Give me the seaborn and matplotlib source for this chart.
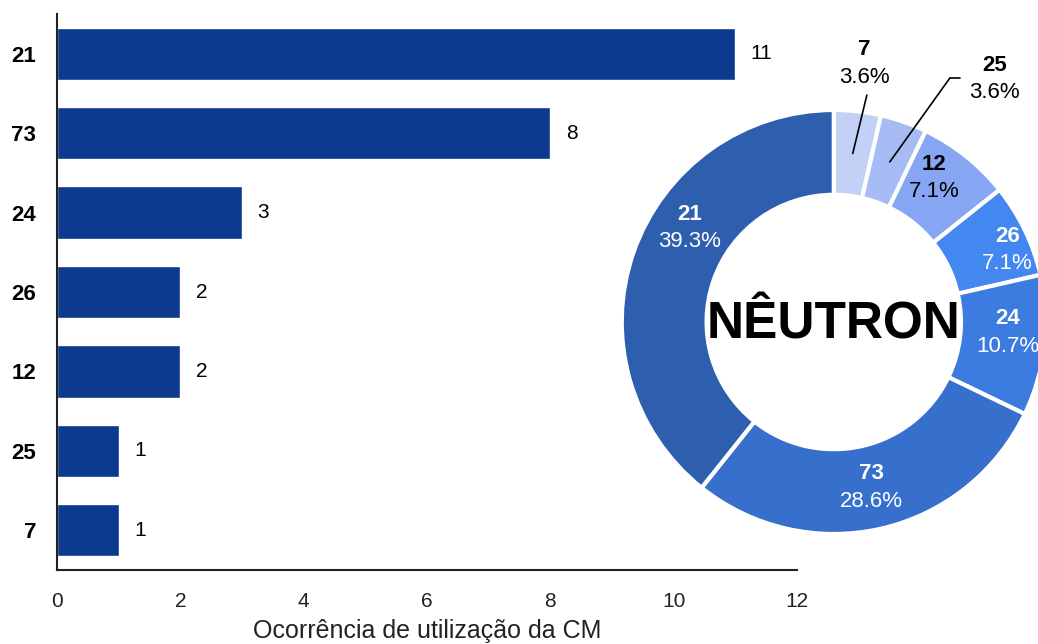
import numpy as np
import pandas as pd
import seaborn as sns
import matplotlib.pyplot as plt

# dados: ocorrência de cada CM
categorias = ["21", "73", "24", "26", "12", "25", "7"]
ocorrencias = [11, 8, 3, 2, 2, 1, 1]

# ordem das fatias do donut (sentido horário a partir do topo)
ordem_pie = ["7", "25", "12", "26", "24", "73", "21"]
cores_pie = ["#c4d1f7", "#a7bcf5", "#86a5f2", "#4387f0", "#3c7be0", "#376fcc", "#2e5eae"]
cor_texto_pie = ["black", "black", "black", "white", "white", "white", "white"]

cor_barra = "#0c3a8f"

sns.set_theme(style="white")
plt.rcParams["font.family"] = ["Liberation Sans", "DejaVu Sans"]

df = pd.DataFrame({"cm": categorias, "n": ocorrencias})

fig = plt.figure(figsize=(10.38, 6.44), dpi=100)

# gráfico de barras horizontais
ax = fig.add_axes([0.0549, 0.115, 0.713, 0.863])
sns.barplot(data=df, x="n", y="cm", order=categorias, color=cor_barra,
            saturation=1, width=0.66, orient="h", ax=ax)
ax.bar_label(ax.containers[0], padding=11, fontsize=15, color="black")

ax.set_xlim(0, 12)
ax.set_xticks(np.arange(0, 13, 2))
ax.set_ylim(len(categorias) - 0.5, -0.5)
ax.set_ylabel("")
ax.set_xlabel("Ocorrência de utilização da CM", fontsize=18, labelpad=6, color="#222222")
ax.tick_params(axis="x", length=0, pad=16, labelsize=15, labelcolor="#222222")
ax.tick_params(axis="y", length=0, pad=15, labelsize=16)
for lbl in ax.get_yticklabels():
    lbl.set_fontweight("bold")
    lbl.set_color("black")

sns.despine(ax=ax)
for s in ["left", "bottom"]:
    ax.spines[s].set_color("#222222")
    ax.spines[s].set_linewidth(1.5)

# donut
valores_pie = [ocorrencias[categorias.index(c)] for c in ordem_pie]
total = sum(valores_pie)

ax2 = fig.add_axes([0.599, 0.1708, 0.4085, 0.6584])
wedges, _ = ax2.pie(valores_pie, colors=cores_pie, startangle=90, counterclock=False,
                    radius=1, wedgeprops=dict(width=0.4, edgecolor="white", linewidth=3))
ax2.set_xlim(-1, 1)
ax2.set_ylim(-1, 1)
ax2.set_aspect("equal")
ax2.axis("off")

# rótulos externos das fatias pequenas (texto, ponta da linha, extensão horizontal)
externos = {"7": ((0.146, 1.22), (0.156, 1.07), None),
            "25": ((0.76, 1.146), (0.547, 1.15), (0.594, 1.15))}
# ajustes de posição de alguns rótulos internos
ajustes = {"21": (-0.679, 0.443), "26": (0.82, 0.34), "24": (0.82, -0.05), "12": (0.475, 0.68)}

for w, nome, v, ct in zip(wedges, ordem_pie, valores_pie, cor_texto_pie):
    ang = np.deg2rad((w.theta1 + w.theta2) / 2)
    pct = f"{100 * v / total:.1f}%"
    if nome in externos:
        (tx, ty), (lx, ly), extra = externos[nome]
        r0 = 0.8
        x0, y0 = r0 * np.cos(ang), r0 * np.sin(ang)
        ax2.plot([x0, lx], [y0, ly], color="black", lw=1.2, clip_on=False)
        if extra is not None:
            ax2.plot([lx, extra[0]], [ly, extra[1]], color="black", lw=1.2, clip_on=False)
        ax2.text(tx, ty + 0.065, nome, ha="center", va="center", fontsize=16,
                 fontweight="bold", color="black", clip_on=False)
        ax2.text(tx, ty - 0.065, pct, ha="center", va="center", fontsize=16,
                 color="black", clip_on=False)
    else:
        if nome in ajustes:
            x, y = ajustes[nome]
        else:
            x, y = 0.8 * np.cos(ang), 0.8 * np.sin(ang)
        ax2.text(x, y + 0.065, nome, ha="center", va="center", fontsize=16,
                 fontweight="bold", color=ct)
        ax2.text(x, y - 0.065, pct, ha="center", va="center", fontsize=16, color=ct)

ax2.text(0, -0.014, "NÊUTRON", ha="center", va="center", fontsize=37,
         fontweight="bold", color="black")

plt.savefig("out.png", dpi=100)
